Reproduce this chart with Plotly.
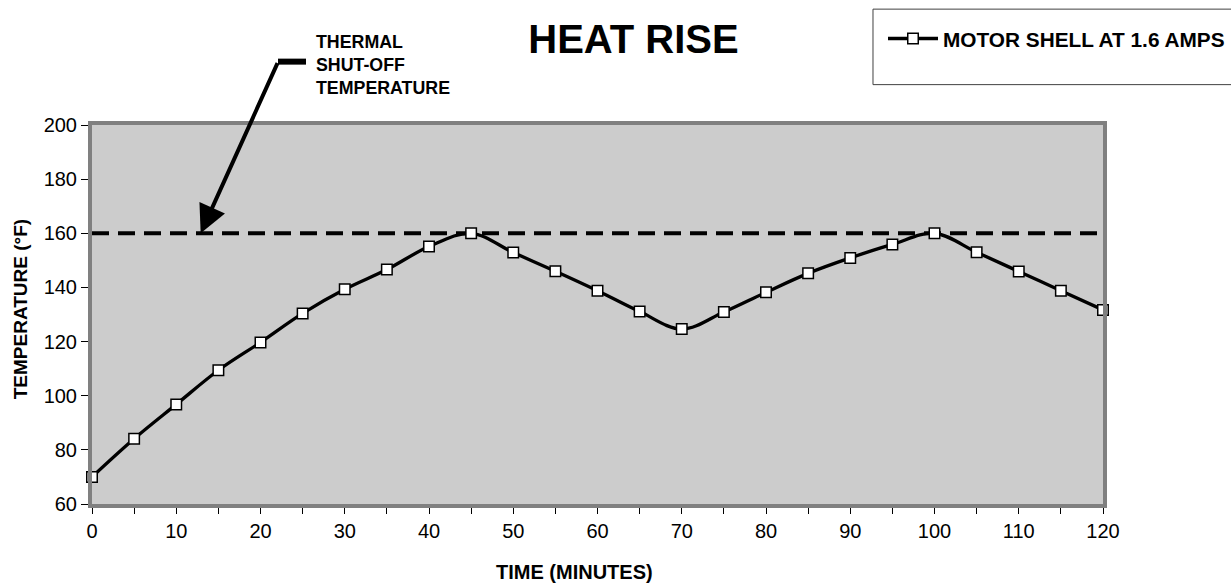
import plotly.graph_objects as go

time_min = [0, 5, 10, 15, 20, 25, 30, 35, 40, 45, 50, 55, 60, 65, 70, 75, 80, 85, 90, 95, 100, 105, 110, 115, 120]
motor_shell = [70, 84.1, 96.8, 109.4, 119.7, 130.4, 139.3, 146.6, 155.1, 160, 152.9, 146, 138.8, 131.1, 124.6,
               130.9, 138.2, 145.2, 150.9, 155.9, 160, 153, 145.9, 138.8, 131.7]
shutoff_x = [0, 120]
shutoff_temp = [160, 160]
series_name = "MOTOR SHELL AT 1.6 AMPS"
x_ticks = list(range(0, 121, 10))
y_ticks = list(range(60, 201, 20))

FONT = "Liberation Sans, Arial, sans-serif"

fig = go.Figure()
fig.add_trace(go.Scatter(
    x=shutoff_x, y=shutoff_temp, mode="lines", showlegend=False, hoverinfo="skip",
    line=dict(color="black", width=4, dash="17px,9px"),
))
fig.add_trace(go.Scatter(
    x=time_min, y=motor_shell, mode="lines+markers", name=series_name,
    line=dict(color="black", width=3.3, shape="spline", smoothing=1.0),
    marker=dict(symbol="square", size=10.5, color="white", line=dict(color="black", width=1.5)),
    cliponaxis=False,
))

# legend box
fig.add_shape(type="rect", xref="paper", yref="paper", x0=0.7725, x1=1.14, y0=1.1065, y1=1.3057,
              line=dict(color="#404040", width=1), fillcolor="rgba(0,0,0,0)")
# annotation leader segment
fig.add_shape(type="line", xref="paper", yref="paper", x0=0.184, x1=0.2117, y0=1.1672, y1=1.1672,
              line=dict(color="black", width=6))

fig.add_annotation(x=12.9, y=160, xref="x", yref="y", ax=22.1, ay=223.4, axref="x", ayref="y",
                   text="", showarrow=True, arrowhead=2, arrowsize=1.4, arrowwidth=4, arrowcolor="black")
fig.add_annotation(x=0.2196, y=1.1585, xref="paper", yref="paper", xanchor="left", yanchor="middle",
                   align="left", showarrow=False,
                   text="<b>THERMAL<br>SHUT-OFF<br>TEMPERATURE</b>",
                   font=dict(family=FONT, size=17.8, color="black"))
fig.add_annotation(x=(574 - 92) / 1011, y=-(571 - 503.5) / 378.5, xref="paper", yref="paper",
                   xanchor="center", yanchor="middle", showarrow=False,
                   text="<b>TIME (MINUTES)</b>", font=dict(family=FONT, size=20, color="black"))
fig.add_annotation(x=-(92 - 20) / 1011, y=(503.5 - 309) / 378.5, xref="paper", yref="paper",
                   xanchor="center", yanchor="middle", showarrow=False, textangle=-90,
                   text="<b>TEMPERATURE (°F)</b>", font=dict(family=FONT, size=19, color="black"))

fig.update_layout(
    width=1231, height=583,
    margin=dict(l=92, r=128, t=125, b=79, autoexpand=False),
    paper_bgcolor="white", plot_bgcolor="#cccccc",
    font=dict(family=FONT, color="black"),
    title=dict(text="<b>HEAT RISE</b>", x=633.5 / 1231, xanchor="center", xref="container",
               y=1 - 39 / 583, yanchor="middle", yref="container",
               font=dict(family=FONT, size=40, color="black")),
    showlegend=True,
    legend=dict(x=883 / 1231, y=1 - 39 / 583, xanchor="left", yanchor="middle",
                xref="container", yref="container", bgcolor="rgba(0,0,0,0)", borderwidth=0,
                font=dict(family=FONT, size=20.8, color="black", weight="bold"), itemwidth=50),
)
fig.update_xaxes(range=[0, 120], tickvals=x_ticks, showgrid=False, zeroline=False,
                 showline=True, mirror=True, linecolor="#808080", linewidth=4,
                 ticks="outside", ticklen=6, tickcolor="black", tickwidth=1,
                 tickfont=dict(family=FONT, size=20, color="black"),
                 minor=dict(ticks="outside", dtick=5, ticklen=6, tickcolor="black"))
fig.update_yaxes(range=[60, 200], tickvals=y_ticks, showgrid=False, zeroline=False,
                 showline=True, mirror=True, linecolor="#808080", linewidth=4,
                 ticks="outside", ticklen=7, tickcolor="black", tickwidth=1,
                 tickfont=dict(family=FONT, size=20, color="black"))

fig.write_html("out.html", config={"displayModeBar": False},
               post_script="document.body.style.margin='0';")
